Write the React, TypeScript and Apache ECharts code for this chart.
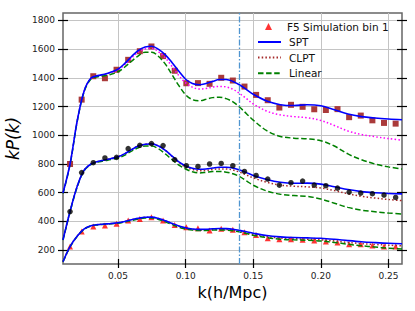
import React, { useEffect, useRef } from 'react';
import * as echarts from 'echarts';

// k values of the simulation bins
const K_DATA = [0.0145, 0.0231, 0.0317, 0.0403, 0.0489, 0.0575, 0.0661, 0.0747, 0.0833, 0.0919, 0.1005, 0.1091, 0.1177, 0.1263, 0.1349, 0.1435, 0.1521, 0.1607, 0.1693, 0.1779, 0.1865, 0.1951, 0.2037, 0.2123, 0.2209, 0.2295, 0.2381, 0.2467, 0.2553];
const SIM_TOP = [800, 1248, 1411, 1397, 1456, 1525, 1585, 1618, 1551, 1449, 1362, 1363, 1358, 1400, 1381, 1339, 1281, 1244, 1193, 1212, 1198, 1181, 1176, 1182, 1126, 1137, 1104, 1086, 1081];
const SIM_MID = [469, 740, 809, 842, 846, 907, 930, 942, 928, 830, 788, 783, 800, 804, 788, 748, 720, 695, 653, 670, 681, 653, 649, 632, 605, 598, 593, 584, 567];
const SIM_BOT = [225, 330, 365, 372, 384, 406, 418, 430, 406, 376, 360, 353, 337, 349, 342, 325, 306, 284, 277, 277, 272, 267, 260, 253, 242, 242, 232, 225, 225];

// k values of the model curves
const K_CURVE = [0.0093, 0.0145, 0.02, 0.025, 0.03, 0.035, 0.04, 0.045, 0.05, 0.055, 0.06, 0.065, 0.07, 0.075, 0.08, 0.085, 0.09, 0.095, 0.10, 0.105, 0.11, 0.115, 0.12, 0.125, 0.13, 0.135, 0.14, 0.145, 0.15, 0.16, 0.17, 0.18, 0.19, 0.20, 0.21, 0.22, 0.23, 0.24, 0.25, 0.26];

const SPT_TOP = [598, 800, 1110, 1310, 1398, 1415, 1425, 1440, 1460, 1500, 1548, 1590, 1614, 1620, 1598, 1560, 1505, 1445, 1390, 1360, 1352, 1360, 1375, 1388, 1388, 1375, 1350, 1318, 1285, 1238, 1213, 1207, 1212, 1205, 1178, 1148, 1130, 1120, 1113, 1108];
const CLPT_TOP = [598, 800, 1110, 1310, 1398, 1414, 1423, 1437, 1455, 1492, 1537, 1578, 1600, 1604, 1580, 1538, 1478, 1415, 1365, 1335, 1322, 1325, 1335, 1340, 1336, 1320, 1290, 1255, 1218, 1168, 1142, 1130, 1122, 1103, 1068, 1030, 1005, 990, 977, 965];
const LIN_TOP = [595, 795, 1105, 1305, 1392, 1408, 1415, 1425, 1442, 1475, 1515, 1553, 1578, 1578, 1548, 1495, 1420, 1345, 1282, 1248, 1240, 1250, 1262, 1265, 1255, 1232, 1195, 1150, 1105, 1032, 992, 980, 975, 962, 925, 870, 830, 800, 780, 765];

const SPT_MID = [272, 469, 650, 758, 800, 818, 828, 838, 850, 872, 900, 925, 938, 940, 925, 895, 855, 815, 787, 770, 763, 765, 772, 777, 777, 772, 758, 740, 720, 692, 673, 666, 667, 660, 642, 622, 608, 600, 595, 592];
const CLPT_MID = [272, 469, 650, 758, 800, 818, 828, 838, 850, 872, 900, 925, 938, 940, 925, 895, 852, 810, 780, 762, 753, 755, 762, 766, 765, 758, 743, 723, 703, 673, 653, 645, 641, 633, 615, 593, 575, 563, 553, 545];
const LIN_MID = [270, 466, 646, 754, 796, 813, 822, 831, 842, 862, 890, 913, 925, 925, 905, 870, 830, 792, 765, 746, 738, 742, 748, 748, 743, 732, 712, 682, 652, 612, 590, 580, 575, 556, 527, 498, 479, 468, 459, 452];

const SPT_BOT = [120, 225, 300, 348, 370, 378, 382, 386, 391, 400, 412, 422, 429, 430, 421, 405, 386, 369, 356, 348, 345, 346, 349, 351, 350, 346, 338, 328, 318, 302, 293, 288, 286, 283, 276, 267, 259, 253, 248, 245];
const CLPT_BOT = [120, 225, 300, 348, 370, 378, 382, 386, 391, 400, 412, 422, 429, 430, 421, 405, 386, 367, 353, 344, 340, 341, 344, 345, 344, 339, 331, 321, 311, 295, 285, 280, 277, 272, 264, 254, 246, 240, 235, 231];
const LIN_BOT = [119, 223, 298, 346, 368, 376, 380, 384, 388, 396, 407, 417, 424, 424, 414, 397, 378, 360, 348, 340, 337, 338, 340, 341, 340, 335, 327, 316, 304, 288, 277, 272, 269, 264, 254, 242, 231, 222, 214, 208];

const X_TICKS = [0.05, 0.10, 0.15, 0.20, 0.25];
const Y_TICKS = [200, 400, 600, 800, 1000, 1200, 1400, 1600, 1800];
const K_CUT = 0.137;
const X_MIN = 0.0093;
const X_MAX = 0.26;
const Y_MIN = 104;
const Y_MAX = 1851;

const FONT = 'DejaVu Sans';

const zip = (xs: number[], ys: number[]) => xs.map((x, i) => [x, ys[i]]);

const lineSeries = (name: string, ys: number[], color: string, dash: any, width = 1.5, z = 3) => ({
  name,
  type: 'line',
  data: zip(K_CURVE, ys),
  smooth: 0.35,
  symbol: 'none',
  showSymbol: false,
  lineStyle: { color, width, type: dash, opacity: 1 },
  itemStyle: { color, opacity: 0 },
  z,
});

const DOT: any = [1.5, 2.2];
const DASH: any = [5.5, 2.6];

export default function App() {
  const ref = useRef<HTMLDivElement>(null);
  useEffect(() => {
    if (!ref.current) return;
    const chart = echarts.init(ref.current, null, { renderer: 'svg' });
    const xBase = { type: 'value', min: X_MIN, max: X_MAX };
    const yBase = { type: 'value', min: Y_MIN, max: Y_MAX };
    const tickStyle = { color: '#000', width: 1.2 };
    const legendText = { fontSize: 10.5, color: '#111', fontFamily: FONT };
    const option: any = {
      animation: false,
      backgroundColor: '#fff',
      grid: {
        left: 63, right: 13, top: 13, bottom: 47,
        show: true, borderColor: '#666', borderWidth: 1.5, backgroundColor: 'transparent',
        outerBoundsMode: 'none', containLabel: false,
      },
      xAxis: [
        {
          ...xBase,
          position: 'bottom',
          name: 'k(h/Mpc)',
          nameLocation: 'middle',
          nameGap: 19,
          nameTextStyle: { fontSize: 16, color: '#000', fontFamily: FONT },
          axisLine: { show: false },
          axisTick: { show: true, inside: false, length: 4, customValues: X_TICKS, lineStyle: tickStyle },
          axisLabel: { customValues: X_TICKS, formatter: (v: number) => v.toFixed(2), fontSize: 9, color: '#222', margin: 7, fontFamily: FONT },
          splitLine: { show: true, lineStyle: { color: '#c4c4c4', width: 1 } },
        },
        {
          ...xBase,
          position: 'bottom',
          axisLine: { show: false },
          axisTick: { show: true, inside: true, length: 5, customValues: X_TICKS, lineStyle: tickStyle },
          axisLabel: { show: false, customValues: X_TICKS },
          splitLine: { show: false },
        },
      ],
      yAxis: [
        {
          ...yBase,
          position: 'left',
          name: 'kP(k)',
          nameLocation: 'middle',
          nameGap: 33,
          nameRotate: 90,
          nameTextStyle: { fontSize: 17, fontStyle: 'italic', color: '#000', fontFamily: FONT },
          axisLine: { show: false },
          axisTick: { show: true, inside: false, length: 5, customValues: Y_TICKS, lineStyle: tickStyle },
          axisLabel: { customValues: Y_TICKS, formatter: (v: number) => String(Math.round(v)), fontSize: 9, color: '#222', margin: 8, fontFamily: FONT },
          splitLine: { show: true, lineStyle: { color: '#c4c4c4', width: 1 } },
        },
        {
          ...yBase,
          position: 'left',
          axisLine: { show: false },
          axisTick: { show: true, inside: true, length: 5, customValues: Y_TICKS, lineStyle: tickStyle },
          axisLabel: { show: false, customValues: Y_TICKS },
          splitLine: { show: false },
        },
        {
          ...yBase,
          position: 'right',
          axisLine: { show: false },
          axisTick: { show: true, inside: false, length: 5, customValues: Y_TICKS, lineStyle: tickStyle },
          axisLabel: { show: false, customValues: Y_TICKS },
          splitLine: { show: false },
        },
        {
          ...yBase,
          position: 'right',
          axisLine: { show: false },
          axisTick: { show: true, inside: true, length: 5, customValues: Y_TICKS, lineStyle: tickStyle },
          axisLabel: { show: false, customValues: Y_TICKS },
          splitLine: { show: false },
        },
      ],
      legend: [
        {
          data: [{ name: 'F5 Simulation bin 1', icon: 'triangle' }],
          orient: 'vertical',
          left: 260,
          top: 16,
          itemWidth: 7,
          itemHeight: 7,
          padding: 5,
          textStyle: { ...legendText, padding: [0, 0, 0, 10] },
        },
        {
          data: ['SPT', 'CLPT', 'Linear'],
          orient: 'vertical',
          left: 252,
          top: 31.5,
          itemWidth: 23,
          itemHeight: 7,
          itemGap: 4.6,
          padding: 5,
          textStyle: { ...legendText, padding: [0, 0, 0, 3] },
        },
      ],
      series: [
        lineSeries('SPT top', SPT_TOP, '#0000ff', 'solid', 1.6, 4),
        lineSeries('CLPT top', CLPT_TOP, '#ff00ff', DOT, 1.5, 3),
        lineSeries('Linear top', LIN_TOP, '#008000', DASH, 1.5, 3),
        lineSeries('SPT mid', SPT_MID, '#0000ff', 'solid', 1.6, 4),
        lineSeries('CLPT mid', CLPT_MID, '#a52a2a', DOT, 1.5, 3),
        lineSeries('Linear mid', LIN_MID, '#008000', DASH, 1.5, 3),
        lineSeries('SPT', SPT_BOT, '#0000ff', 'solid', 1.6, 4),
        lineSeries('CLPT', CLPT_BOT, '#a52a2a', DOT, 1.5, 3),
        lineSeries('Linear', LIN_BOT, '#008000', DASH, 1.5, 3),
        {
          name: 'Sim top',
          type: 'scatter',
          data: zip(K_DATA, SIM_TOP),
          symbol: 'rect',
          symbolSize: 6,
          itemStyle: { color: '#a52f2f', opacity: 0.95 },
          z: 2,
        },
        {
          name: 'Sim mid',
          type: 'scatter',
          data: zip(K_DATA, SIM_MID),
          symbol: 'circle',
          symbolSize: 5.5,
          itemStyle: { color: '#000' },
          z: 5,
        },
        {
          name: 'F5 Simulation bin 1',
          type: 'scatter',
          data: zip(K_DATA, SIM_BOT),
          symbol: 'triangle',
          symbolSize: 6,
          itemStyle: { color: '#ff0000' },
          z: 2,
          markLine: {
            silent: true,
            symbol: 'none',
            label: { show: false },
            lineStyle: { color: '#4f95d0', width: 1.3, type: [6, 2, 1.5, 2], opacity: 1 },
            data: [{ xAxis: K_CUT }],
          },
        },
      ],
    };
    chart.setOption(option);
    return () => chart.dispose();
  }, []);
  return <div ref={ref} style={{ position: 'fixed', left: 0, top: 0, width: 415, height: 311 }} />;
}
